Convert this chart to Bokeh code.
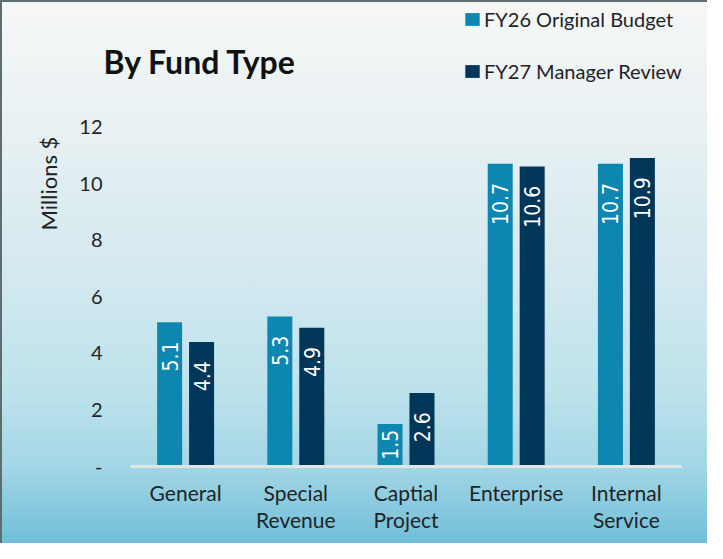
import math
from bokeh.plotting import figure
from bokeh.models import (ColumnDataSource, FixedTicker, Label, Legend, LegendItem,
                          FactorRange, Title)
from bokeh.transform import dodge
from bokeh.core.properties import value
from bokeh.embed import file_html
from bokeh.resources import INLINE

categories = ["General", "Special\nRevenue", "Captial\nProject", "Enterprise", "Internal\nService"]
fy26 = [5.1, 5.3, 1.5, 10.7, 10.7]
fy27 = [4.4, 4.9, 2.6, 10.6, 10.9]
series_names = ["FY26 Original Budget", "FY27 Manager Review"]
y_ticks = [0, 2, 4, 6, 8, 10, 12]
y_tick_labels = {0: "-", 2: "2", 4: "4", 6: "6", 8: "8", 10: "10", 12: "12"}

C26 = "#0e87b0"
C27 = "#003658"
TXT = "#1f2326"
FONT = "Lato"
NUM_FONT = "'Liberation Sans Narrow', 'DejaVu Sans Condensed', sans-serif"

W, H = 707, 543
PX = 28.3          # px per unit (vertical)
CW = 110.2         # px per category
FRAME_L = 100
frame_h = 464


def label_pos(v):
    # "inside end" label position: a little below the bar top, nearer the top on short bars
    return v - (0.68 if v > 2 else 0.2)


src = ColumnDataSource(dict(
    cats=categories,
    fy26=fy26,
    fy27=fy27,
    l26=[f"{v:.1f}" for v in fy26],
    l27=[f"{v:.1f}" for v in fy27],
    y26=[label_pos(v) for v in fy26],
    y27=[label_pos(v) for v in fy27],
))

pad_units = (128 - FRAME_L) / CW
x_range = FactorRange(factors=categories, range_padding=2 * pad_units / len(categories),
                      range_padding_units="percent")

p = figure(width=W, height=H, x_range=x_range, y_range=(0, frame_h / PX),
           output_backend="svg", toolbar_location=None,
           min_border_left=FRAME_L, min_border_right=0, min_border_top=0,
           min_border_bottom=H - frame_h)
p.background_fill_alpha = 0
p.border_fill_alpha = 0
p.outline_line_color = None
p.styles = {
    "background": "linear-gradient(to bottom, #f5f7f6 0%, #e7f0f2 25%, #d3e9ef 50%, #bde2ec 72%, #a3d6e6 86%, #70bed8 100%)",
    "border-left": "2px solid #5d6d70",
    "border-top": "2px solid #5d6d70",
}
p.grid.visible = False

b1 = p.vbar(x=dodge("cats", -0.145, range=p.x_range), top="fy26", width=0.227, source=src,
            fill_color=C26, line_color=None)
b2 = p.vbar(x=dodge("cats", 0.145, range=p.x_range), top="fy27", width=0.227, source=src,
            fill_color=C27, line_color=None)

for col, yc, off in (("l26", "y26", -0.145), ("l27", "y27", 0.145)):
    p.text(x=dodge("cats", off, range=p.x_range), y=yc, text=col, source=src,
           angle=math.pi / 2, text_align="right", text_baseline="middle",
           text_color="white", text_font=value(NUM_FONT), text_font_size="21px")

# axes
p.yaxis.ticker = FixedTicker(ticks=y_ticks)
p.yaxis.major_label_overrides = y_tick_labels
p.yaxis.axis_line_color = None
p.yaxis.major_tick_line_color = None
p.yaxis.minor_tick_line_color = None
p.yaxis.major_tick_out = 0
p.yaxis.major_label_standoff = 0
p.yaxis.major_label_text_font = FONT
p.yaxis.major_label_text_font_size = "20px"
p.yaxis.major_label_text_color = TXT

p.xaxis.bounds = (0, len(categories))
p.xaxis.axis_line_color = "#dde5e5"
p.xaxis.axis_line_width = 3
p.xaxis.major_tick_line_color = None
p.xaxis.minor_tick_line_color = None
p.xaxis.major_tick_out = 0
p.xaxis.major_label_standoff = 13
p.xaxis.major_label_text_font = FONT
p.xaxis.major_label_text_font_size = "21px"
p.xaxis.major_label_text_color = TXT
p.xaxis.major_label_text_line_height = 1.11


def dx(px):
    return (px - 128) / CW


def dy(py):
    return (frame_h - py) / PX


p.add_layout(Label(x=dx(101), y=dy(59), text="By Fund Type", text_font=FONT,
                   text_font_style="bold", text_font_size="32px", text_color="#111111",
                   text_baseline="alphabetic"))

p.add_layout(Title(text="Millions $", align="left", offset=236, standoff=30,
                   text_font=FONT, text_font_style="normal", text_font_size="22px",
                   text_color=TXT), "left")

legend = Legend(items=[LegendItem(label=series_names[0], renderers=[b1]),
                       LegendItem(label=series_names[1], renderers=[b2])],
                location=(361, 383), orientation="vertical",
                glyph_width=18, glyph_height=16, label_height=24, spacing=28,
                padding=0, margin=0, label_standoff=3,
                label_text_font=FONT, label_text_font_size="20px", label_text_color=TXT,
                border_line_color=None, background_fill_alpha=0)
p.add_layout(legend)

open("out.html", "w").write(file_html(p, INLINE))
